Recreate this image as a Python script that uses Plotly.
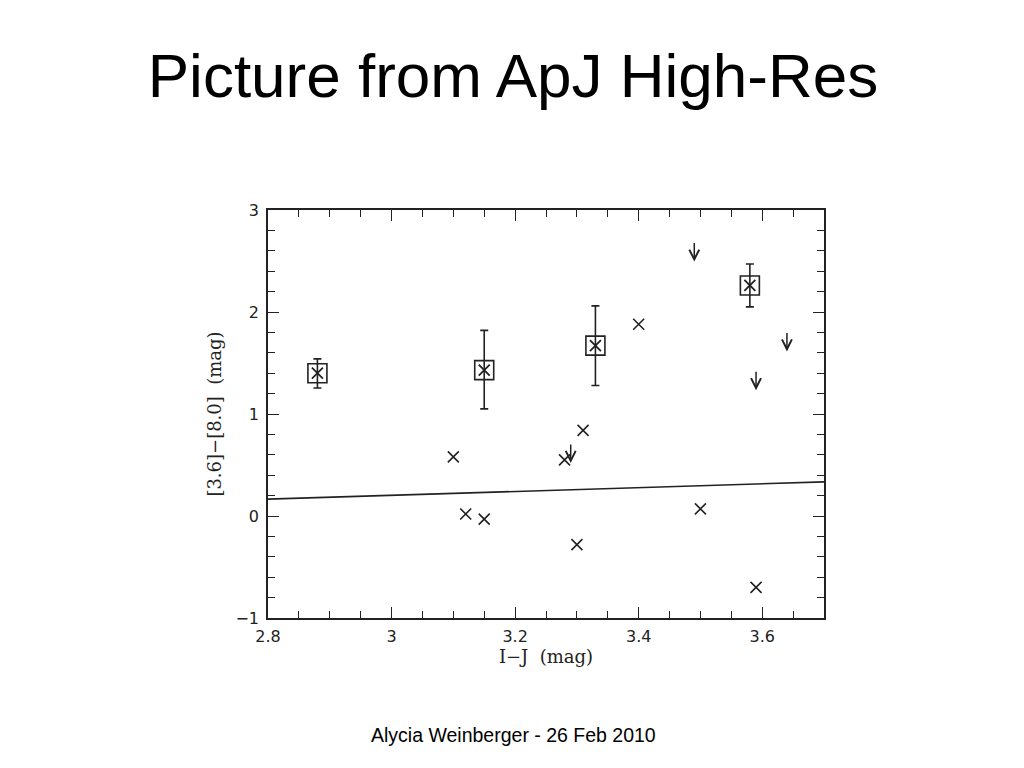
import plotly.graph_objects as go

# ---- data ----
box_x = [2.88, 3.15, 3.33, 3.58]
box_y = [1.40, 1.43, 1.67, 2.26]
box_err_plus = [0.14, 0.39, 0.39, 0.21]
box_err_minus = [0.145, 0.38, 0.39, 0.21]

cross_x = [3.10, 3.12, 3.15, 3.28, 3.30, 3.31, 3.40, 3.50, 3.59]
cross_y = [0.58, 0.02, -0.03, 0.55, -0.28, 0.84, 1.88, 0.07, -0.70]

# upper limits (value = start of the downward arrow)
limit_x = [3.29, 3.49, 3.59, 3.64]
limit_y = [0.715, 2.69, 1.43, 1.81]

line_x = [2.8, 3.7]
line_y = [0.165, 0.335]

x_tickvals = [2.8, 3.0, 3.2, 3.4, 3.6]
x_ticktext = ["2.8", "3", "3.2", "3.4", "3.6"]
y_tickvals = [-1, 0, 1, 2, 3]
y_ticktext = ["\u22121", "0", "1", "2", "3"]

title_text = "Picture from ApJ High-Res"
footer_text = "Alycia Weinberger - 26 Feb 2010"
x_title = "I\u2212J\u00a0\u00a0(mag)"
y_title = "[3.6]\u2212[8.0]\u00a0\u00a0(mag)"

ink = "#222222"

fig = go.Figure()

# fitted line
fig.add_trace(go.Scatter(x=line_x, y=line_y, mode="lines",
                         line=dict(color=ink, width=1.6), hoverinfo="skip"))

# boxed points with error bars
fig.add_trace(go.Scatter(
    x=box_x, y=box_y, mode="markers",
    marker=dict(symbol="square-open", size=19, color=ink, line=dict(width=1.6, color=ink)),
    error_y=dict(type="data", array=box_err_plus, arrayminus=box_err_minus,
                 color=ink, thickness=1.6, width=4),
))
fig.add_trace(go.Scatter(
    x=box_x, y=box_y, mode="markers",
    marker=dict(symbol="x-thin-open", size=11, color=ink, line=dict(width=1.8, color=ink)),
))

# crosses
fig.add_trace(go.Scatter(
    x=cross_x, y=cross_y, mode="markers",
    marker=dict(symbol="x-thin-open", size=11, color=ink, line=dict(width=1.6, color=ink)),
))

# upper-limit arrows, placed on the data axes
limit_arrows = [
    dict(x=lx, y=ly, xref="x", yref="y", text="", showarrow=True,
         ax=0, ay=-20, yshift=-20, arrowhead=5, arrowsize=1.3, arrowwidth=1.5,
         arrowcolor=ink)
    for lx, ly in zip(limit_x, limit_y)
]

axis_common = dict(
    showgrid=False, zeroline=False, showline=True, linecolor=ink, linewidth=1.6,
    mirror="allticks", ticks="inside", tickcolor=ink, tickwidth=1.4, ticklen=11,
    tickfont=dict(family="DejaVu Sans", size=16, color=ink),
)

fig.update_xaxes(
    range=[2.8, 3.7], tickmode="array", tickvals=x_tickvals, ticktext=x_ticktext,
    minor=dict(ticks="inside", ticklen=7, dtick=0.05, tick0=2.8, tickcolor=ink, tickwidth=1.2),
    title=dict(text=x_title, font=dict(family="DejaVu Serif", size=18, color=ink), standoff=0),
    ticklabelstandoff=3,
    **axis_common,
)
fig.update_yaxes(
    range=[-1, 3], tickmode="array", tickvals=y_tickvals, ticktext=y_ticktext,
    minor=dict(ticks="inside", ticklen=7, dtick=0.2, tick0=0, tickcolor=ink, tickwidth=1.2),
    title=dict(text=y_title, font=dict(family="DejaVu Serif", size=18, color=ink), standoff=9),
    ticklabelstandoff=4,
    **axis_common,
)

fig.update_layout(
    width=1016, height=760, autosize=False,
    margin=dict(l=260, r=200, t=202, b=150, pad=0),
    paper_bgcolor="white", plot_bgcolor="white",
    showlegend=False,
    title=dict(text=title_text, x=505 / 1016, xanchor="center", y=1 - 67 / 760, yanchor="middle",
               font=dict(family="Liberation Sans", size=62, color="black")),
    annotations=limit_arrows + [dict(text=footer_text, xref="paper", yref="paper",
                      x=(505 - 260) / 556, y=(610 - 727) / 408,
                      xanchor="center", yanchor="middle", showarrow=False,
                      font=dict(family="Liberation Sans", size=19.5, color="black"))],
)

fig.write_html("out.html")
